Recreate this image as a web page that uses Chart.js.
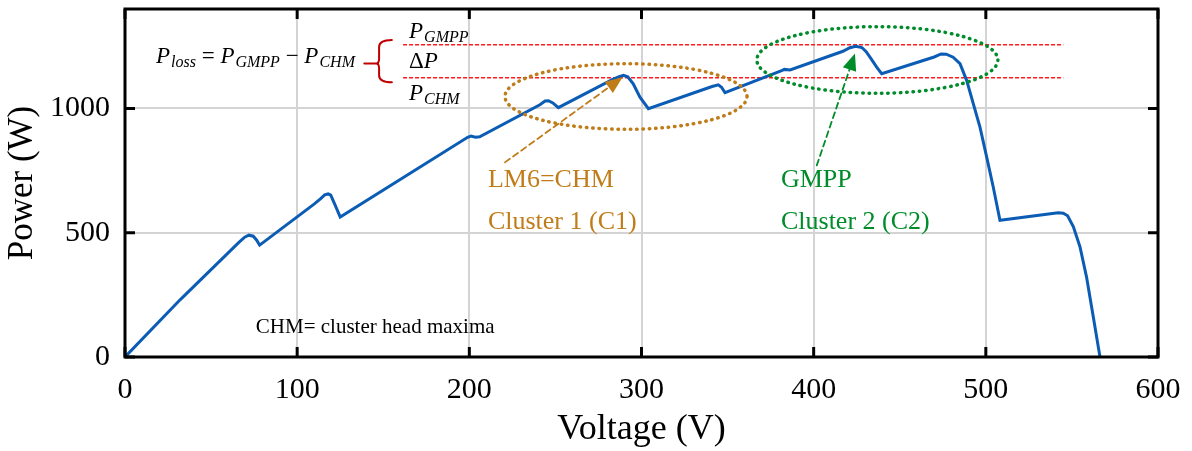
<!DOCTYPE html>
<html lang="en">
  <head>
    <meta charset="UTF-8" />
    <title>P-V curve with cluster head maxima</title>
    <script src="https://cdn.jsdelivr.net/npm/chart.js"></script>
    <style>
      body {
        margin: 0;
        background: #fff;
      }
      canvas {
        display: block;
      }
    </style>
  </head>
  <body>
    <canvas id="pvChart" width="1192" height="451"></canvas>

    <script>
      // P-V curve
      const voltage = [
        0, 32, 66, 69.5, 72, 74.5, 76.5, 78.2,
        110, 113.5, 116, 118, 119.5, 122, 125,
        199, 201, 203.5, 206,
        241, 244, 246, 248.5, 251.7,
        283, 287, 289.5, 292, 295.2, 299.1, 304,
        341, 344.6, 346.5, 348.5,
        381.4, 383, 386.3,
        417, 421, 424.5, 428, 430.5, 432.7, 436.6, 439.5,
        470, 474, 477, 481, 485, 488.9, 492.7, 496.6, 500.5, 504.3, 508.2,
        542, 545, 547.5, 550.8, 554.7, 558.5, 562.4, 566.3,
      ];
      const power = [
        0, 230, 460, 482, 490, 486, 470, 450,
        616, 636, 652, 656, 651, 612, 563,
        884, 889, 884, 886,
        1015, 1030, 1031, 1022, 1003,
        1116, 1128, 1133, 1127, 1099, 1045, 999,
        1088, 1095, 1085, 1063,
        1152, 1157, 1155,
        1230, 1244, 1250, 1245, 1228, 1206, 1166, 1140,
        1207, 1219, 1218, 1206, 1180, 1112, 1019, 925, 804, 684, 550,
        580, 578, 568, 525, 443, 322, 162, 0,
      ];

      // reference levels (red dashed)
      const levelSpan = [161.5, 545];
      const gmppLevel = 1256;
      const chmLevel = 1123;

      const xTickValues = [0, 100, 200, 300, 400, 500, 600];
      const yTickValues = [0, 500, 1000];

      // clusters: [centre V, centre P, radius V, radius P]
      const cluster1 = [291, 1048, 70.3, 132];
      const cluster2 = [437, 1195, 70, 134];

      // arrows: [tail V, tail P, tip V, tip P]
      const arrowC1 = [220.7, 783, 289, 1125];
      const arrowC2 = [401.8, 771, 424, 1221];

      const orange = "#c07c18";
      const green = "#008c2a";
      const serif = '"Liberation Serif", "Times New Roman", serif';

      const pts = voltage.map((v, i) => ({ x: v, y: power[i] }));
      const level = (p) => levelSpan.map((v) => ({ x: v, y: p }));

      function dotted(ctx, color) {
        ctx.strokeStyle = color;
        ctx.lineWidth = 3.5;
        ctx.lineCap = "round";
        ctx.setLineDash([0.5, 5.8]);
      }

      function arrow(ctx, x0, y0, x1, y1, color) {
        const ang = Math.atan2(y1 - y0, x1 - x0);
        const len = 17;
        const bx = x1 - len * Math.cos(ang);
        const by = y1 - len * Math.sin(ang);
        ctx.save();
        ctx.strokeStyle = color;
        ctx.lineWidth = 1.8;
        ctx.setLineDash([6, 4]);
        ctx.beginPath();
        ctx.moveTo(x0, y0);
        ctx.lineTo(bx, by);
        ctx.stroke();
        ctx.setLineDash([]);
        ctx.fillStyle = color;
        ctx.beginPath();
        ctx.moveTo(x1, y1);
        ctx.lineTo(bx + 7 * Math.sin(ang), by - 7 * Math.cos(ang));
        ctx.lineTo(bx - 7 * Math.sin(ang), by + 7 * Math.cos(ang));
        ctx.closePath();
        ctx.fill();
        ctx.restore();
      }

      // italic symbol with subscript, returns the x where it ends
      function symbol(ctx, x, y, main, sub, size) {
        ctx.font = "italic " + size + "px " + serif;
        ctx.fillText(main, x, y);
        x += ctx.measureText(main).width + 1;
        if (sub) {
          ctx.font = "italic " + Math.round(size * 0.7) + "px " + serif;
          ctx.fillText(sub, x, y + 4);
          x += ctx.measureText(sub).width;
        }
        return x;
      }

      const annotate = {
        id: "annotate",
        afterDatasetsDraw(chart) {
          const { ctx, scales } = chart;
          const X = (v) => scales.x.getPixelForValue(v);
          const Y = (p) => scales.y.getPixelForValue(p);
          ctx.save();

          // cluster ellipses
          [[cluster1, orange], [cluster2, green]].forEach(([c, col]) => {
            const cx = X(c[0]), cy = Y(c[1]);
            dotted(ctx, col);
            ctx.beginPath();
            ctx.ellipse(cx, cy, X(c[0] + c[2]) - cx, cy - Y(c[1] + c[3]), 0, 0, Math.PI * 2);
            ctx.stroke();
          });
          ctx.setLineDash([]);

          arrow(ctx, X(arrowC1[0]), Y(arrowC1[1]), X(arrowC1[2]), Y(arrowC1[3]), orange);
          arrow(ctx, X(arrowC2[0]), Y(arrowC2[1]), X(arrowC2[2]), Y(arrowC2[3]), green);

          // labels
          ctx.textBaseline = "alphabetic";
          ctx.textAlign = "left";
          ctx.font = "26px " + serif;
          ctx.fillStyle = orange;
          ctx.fillText("LM6=CHM", X(210.8), Y(683));
          ctx.fillText("Cluster 1 (C1)", X(210.8), Y(514));
          ctx.fillStyle = green;
          ctx.fillText("GMPP", X(381), Y(683));
          ctx.fillText("Cluster 2 (C2)", X(381), Y(514));
          ctx.fillStyle = "#000";
          ctx.font = "21px " + serif;
          ctx.fillText("CHM= cluster head maxima", X(76), Y(96));

          // loss formula
          let fx = X(18);
          const fy = Y(1181);
          fx = symbol(ctx, fx, fy, "P", "loss", 23);
          ctx.font = "23px " + serif;
          ctx.fillText(" = ", fx, fy);
          fx += ctx.measureText(" = ").width;
          fx = symbol(ctx, fx, fy, "P", "GMPP", 23);
          ctx.font = "23px " + serif;
          ctx.fillText(" \u2212 ", fx, fy);
          fx += ctx.measureText(" \u2212 ").width;
          symbol(ctx, fx, fy, "P", "CHM", 23);

          // brace
          const bx0 = X(139), bx1 = X(147), bx2 = X(155);
          const by0 = Y(1275), bym = Y(1181), by1 = Y(1105);
          ctx.strokeStyle = "#c00000";
          ctx.lineWidth = 2;
          ctx.beginPath();
          ctx.moveTo(bx0, bym);
          ctx.lineTo(bx1, bym);
          ctx.moveTo(bx2, by0);
          ctx.quadraticCurveTo(bx1 + 1, by0, bx1 + 1, by0 + 7);
          ctx.lineTo(bx1 + 1, bym - 5);
          ctx.quadraticCurveTo(bx1 + 1, bym, bx1 - 2, bym);
          ctx.quadraticCurveTo(bx1 + 1, bym, bx1 + 1, bym + 5);
          ctx.lineTo(bx1 + 1, by1 - 7);
          ctx.quadraticCurveTo(bx1 + 1, by1, bx2, by1);
          ctx.stroke();

          ctx.fillStyle = "#000";
          symbol(ctx, X(165), Y(1285), "P", "GMPP", 23);
          ctx.font = "23px " + serif;
          ctx.fillText("\u0394", X(165), Y(1161));
          symbol(ctx, X(165) + ctx.measureText("\u0394").width, Y(1161), "P", "", 23);
          symbol(ctx, X(165), Y(1032), "P", "CHM", 23);

          ctx.restore();
        },
        afterDraw(chart) {
          const { ctx, chartArea: a, scales } = chart;
          ctx.save();
          ctx.strokeStyle = "#000";
          ctx.lineWidth = 3;
          ctx.beginPath();
          xTickValues.forEach((v) => {
            const px = scales.x.getPixelForValue(v);
            ctx.moveTo(px, a.bottom);
            ctx.lineTo(px, a.bottom - 10);
            ctx.moveTo(px, a.top);
            ctx.lineTo(px, a.top + 10);
          });
          yTickValues.forEach((v) => {
            const py = scales.y.getPixelForValue(v);
            ctx.moveTo(a.left, py);
            ctx.lineTo(a.left + 10, py);
            ctx.moveTo(a.right, py);
            ctx.lineTo(a.right - 10, py);
          });
          ctx.stroke();
          ctx.strokeRect(a.left, a.top, a.right - a.left, a.bottom - a.top);
          ctx.restore();
        },
      };

      function fixBox(s, size) {
        if (s.isHorizontal()) s.height = size;
        else s.width = size;
        s.paddingTop = 0;
        s.paddingBottom = 0;
        s.paddingLeft = 0;
        s.paddingRight = 0;
      }

      new Chart(document.getElementById("pvChart"), {
        type: "line",
        data: {
          datasets: [
            {
              label: "P-V",
              data: pts,
              borderColor: "#0b5cb5",
              borderWidth: 3,
              pointRadius: 0,
              tension: 0,
            },
            {
              label: "P GMPP",
              data: level(gmppLevel),
              borderColor: "#ff1a1a",
              borderWidth: 1.5,
              borderDash: [4, 2],
              pointRadius: 0,
            },
            {
              label: "P CHM",
              data: level(chmLevel),
              borderColor: "#ff1a1a",
              borderWidth: 1.5,
              borderDash: [4, 2],
              pointRadius: 0,
            },
          ],
        },
        options: {
          responsive: false,
          animation: false,
          layout: { padding: { left: 0, right: 34, top: 9, bottom: 0 } },
          plugins: {
            legend: { display: false },
            tooltip: { enabled: false },
          },
          scales: {
            x: {
              type: "linear",
              min: 0,
              max: 600,
              afterFit: (s) => fixBox(s, 94),
              afterBuildTicks: (s) => { s.ticks = xTickValues.map((v) => ({ value: v })); },
              grid: { color: "#d4d4d4", lineWidth: 2, drawTicks: false },
              border: { display: false },
              ticks: { color: "#000", padding: 15, font: { family: serif, size: 30 }, callback: (v) => String(v) },
              title: {
                display: true,
                text: "Voltage (V)",
                color: "#000",
                padding: { top: 0, bottom: 0 },
                font: { family: serif, size: 36 },
              },
            },
            y: {
              min: 0,
              max: 1400,
              afterFit: (s) => fixBox(s, 125),
              afterBuildTicks: (s) => { s.ticks = yTickValues.map((v) => ({ value: v })); },
              grid: { color: "#d4d4d4", lineWidth: 2, drawTicks: false },
              border: { display: false },
              ticks: { color: "#000", padding: 15, font: { family: serif, size: 30 }, callback: (v) => String(v) },
              title: {
                display: true,
                text: "Power (W)",
                color: "#000",
                padding: { top: 2, bottom: 0 },
                font: { family: serif, size: 35 },
              },
            },
          },
        },
        plugins: [annotate],
      });
    </script>
  </body>
</html>
